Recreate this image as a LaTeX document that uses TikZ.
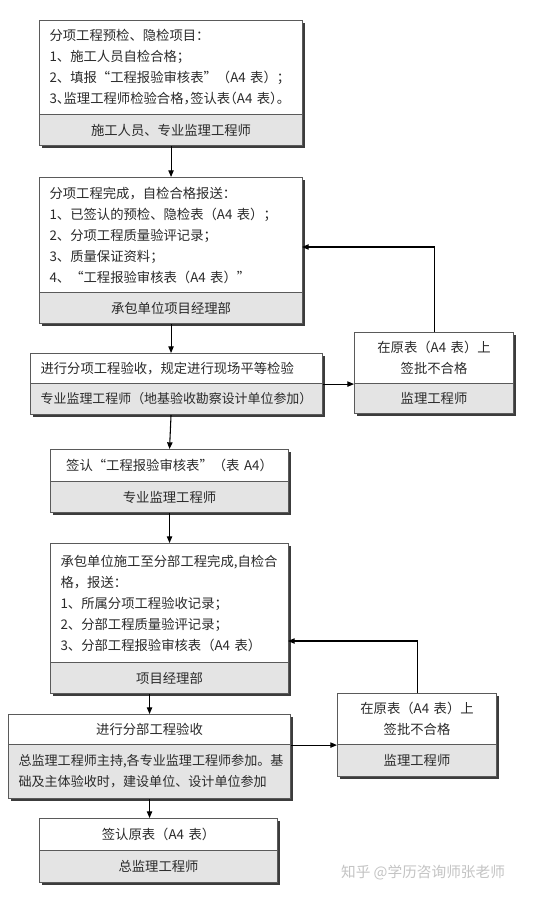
\documentclass[tikz,border=0pt]{standalone}
\usepackage{fontspec}
\setmainfont{Noto Sans CJK SC}
\usetikzlibrary{shadows,arrows.meta,calc}
\definecolor{bordc}{HTML}{5A5A5A}
\definecolor{graybg}{HTML}{E4E4E4}
\definecolor{shadc}{HTML}{3C3C3C}
\definecolor{txtc}{HTML}{2A2A2A}
\definecolor{wmc}{HTML}{C4C4C4}
\newcommand\mkbox[8]{%
  \pgfmathsetmacro\mkTW{(#4-20)*0.75}%
  \pgfmathsetmacro\mkMW{#4*0.75}%
  \pgfmathsetmacro\mkMH{#5*0.75}%
  \node[boxpart,#6,minimum width=\mkMW pt,minimum height=\mkMH pt,text width=\mkTW pt,align=#7] (#1) at (#2,#3) {#8};}
\tikzset{
  boxpart/.style={draw=bordc, line width=0.8pt, anchor=north west, inner xsep=7.5pt, inner ysep=1pt,
    text=txtc, font=\fontsize{10pt}{15.75pt}\selectfont,
    drop shadow={shadow xshift=1.6pt, shadow yshift=-1.6pt, fill=shadc, opacity=1}},
  toppart/.style={fill=white},
  botpart/.style={fill=graybg},
  arr/.style={draw=black, line width=0.8pt, -{Triangle[length=5pt,width=4pt]}}
}
\begin{document}
\begin{tikzpicture}[x=0.75pt,y=-0.75pt]
\useasboundingbox[fill=white] (0,0) rectangle (556,898);
% box 1
\mkbox{b1t}{39}{20}{263}{94}{toppart}{left}{分项工程预检、隐检项目：\\1、施工人员自检合格；\\2、填报“工程报验审核表”（A4~表）；\\\mbox{\addfontfeatures{RawFeature=+halt}3、监理工程师检验合格，签认表（A4~表）。}}
\mkbox{b1b}{39}{114}{263}{31}{botpart}{center}{施工人员、专业监理工程师}
% box 2
\mkbox{b2t}{39}{177}{263}{115}{toppart}{left}{分项工程完成，自检合格报送：\\1、已签认的预检、隐检表（A4~表）；\\2、分项工程质量验评记录；\\3、质量保证资料；\\4、“工程报验审核表（A4~表）”}
\mkbox{b2b}{39}{292}{263}{31}{botpart}{center}{承包单位项目经理部}
% box 3
\mkbox{b3t}{30}{353}{292}{30}{toppart}{left}{进行分项工程验收，规定进行现场平等检验}
\mkbox{b3b}{30}{383}{292}{31}{botpart}{center}{\fontsize{9.7pt}{15pt}\selectfont 专业监理工程师（地基验收勘察设计单位参加）}
% right box 1
\mkbox{r1t}{354}{332}{159}{51}{toppart}{center}{在原表（A4~表）上\\签批不合格}
\mkbox{r1b}{354}{383}{159}{30}{botpart}{center}{监理工程师}
% box 4
\mkbox{b4t}{50}{449}{238}{32}{toppart}{center}{签认“工程报验审核表”（表~A4）}
\mkbox{b4b}{50}{481}{238}{31}{botpart}{center}{专业监理工程师}
% box 5
\mkbox{b5t}{50}{543}{238}{119}{toppart}{left}{承包单位施工至分部工程完成,自检合\\格，报送：\\1、所属分项工程验收记录；\\2、分部工程质量验评记录；\\3、分部工程报验审核表（A4~表）}
\mkbox{b5b}{50}{662}{238}{31}{botpart}{center}{项目经理部}
% right box 2
\mkbox{r2t}{337}{693}{159}{51}{toppart}{center}{在原表（A4~表）上\\签批不合格}
\mkbox{r2b}{337}{744}{159}{32}{botpart}{center}{监理工程师}
% box 6
\mkbox{b6t}{8}{714}{282}{30}{toppart}{center}{进行分部工程验收}
\mkbox{b6b}{8}{744}{282}{54}{botpart}{left}{\fontsize{9.8pt}{14.25pt}\selectfont \mbox{总监理工程师主持,各专业监理工程师参加。基}\\础及主体验收时，建设单位、设计单位参加}
% box 7
\mkbox{b7t}{39}{818}{238}{32}{toppart}{center}{签认原表（A4~表）}
\mkbox{b7b}{39}{850}{238}{32}{botpart}{center}{总监理工程师}
% watermark
\node[text=wmc, font=\fontsize{11pt}{13pt}\selectfont] (wm) at (423,873) {知乎 @学历咨询师张老师};
% connectors
\coordinate (b2in) at (302,247);
\coordinate (b5in) at (288,641);
\draw[arr] (b1b.south) -- (b2t.north);
\draw[arr] (b2b.south) -- (b2b.south |- b3t.north);
\draw[arr] (b3t.south east) -- (r1t.south west);
\draw[arr] (r1t.north) |- (b2in);
\draw[arr] (b3b.south -| b2b.south) -- (b4t.north);
\draw[arr] (b4b.south) -- (b5t.north);
\draw[arr] (b5b.south -| b6t.north) -- (b6t.north);
\draw[arr] (b6t.south east) -- (r2t.south west);
\draw[arr] (r2t.north) |- (b5in);
\draw[arr] (b6b.south) -- (b6b.south |- b7t.north);
\end{tikzpicture}
\end{document}
